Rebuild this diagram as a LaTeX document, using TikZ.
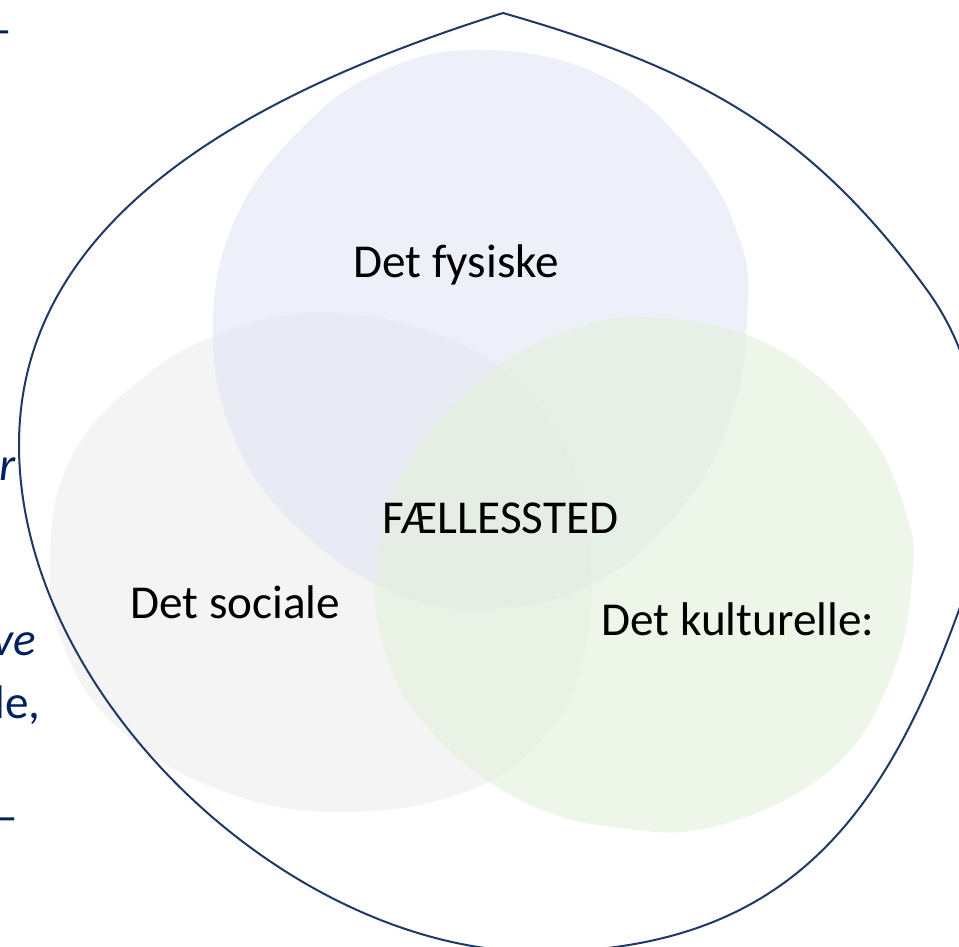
\documentclass[tikz,border=0pt]{standalone}
\usepackage{fontspec}
\setmainfont{Carlito}
\usetikzlibrary{positioning}
\definecolor{navy}{HTML}{1F3864}
\definecolor{textblue}{HTML}{002060}
\definecolor{physblue}{RGB}{225,230,243}
\definecolor{socgrey}{RGB}{237,237,237}
\definecolor{kulgreen}{RGB}{227,240,220}

\begin{document}
\begin{tikzpicture}[x=0.5pt, y=-0.5pt,
    blob/.style={draw=none, fill opacity=0.6},
    lbl/.style={font=\fontsize{23.6}{28}\selectfont, text=black, inner sep=0pt},
    cut/.style={font=\fontsize{23.6}{28}\selectfont, text=textblue, inner sep=0pt}]
        \useasboundingbox (0,0) rectangle (959,947);
        \clip (0,0) rectangle (959,947);
        % the three circles
        \fill [blob, socgrey] plot [smooth cycle, tension=0.7] coordinates {(330,313) (440,335) (520,385) (570,460) (590,560) (585,650) (550,730) (470,790) (340,812) (220,790) (120,730) (65,650) (50,560) (70,460) (140,380) (230,330)};
        \fill [blob, physblue] plot [smooth cycle, tension=0.7] coordinates {(480,50) (600,75) (690,150) (740,240) (747,320) (730,420) (680,510) (600,580) (500,608) (400,595) (300,530) (235,440) (213,330) (235,220) (300,130) (380,72)};
        \fill [blob, kulgreen] plot [smooth cycle, tension=0.7] coordinates {(660,318) (770,345) (860,420) (905,510) (912,580) (890,680) (830,770) (720,825) (620,828) (520,800) (430,730) (385,650) (377,560) (410,460) (480,380) (570,330)};
        % outline
        \coordinate (top) at (503,13);
        \coordinate (east) at (927,290);
        \coordinate (southeast) at (959,610);
        \coordinate (bottom) at (537,952);
        \coordinate (west) at (19,445);
        \draw [navy, line width=1pt] (top) .. controls (695,68) and (809,128) .. (east)
            .. controls (992,379) and (996,507) .. (southeast)
            .. controls (884,817) and (787,952) .. (bottom)
            .. controls (287,950) and (19,695) .. (west)
            .. controls (19,215) and (256,91) .. (top);
        % labels
        \node [lbl, anchor=base west] (fys) at (353,277) {Det fysiske};
        \node [lbl, anchor=base west] (faelles) at (382,533) {FÆLLESSTED};
        \node [lbl, anchor=base west] (soc) at (130,618) {Det sociale};
        \node [lbl, anchor=base west] (kul) at (601,635) {Det kulturelle:};
        % text cut off at the left edge
        \node [cut, anchor=base east] (dashtop) at (12,46) {–};
        \node [cut, anchor=base east, font=\fontsize{23.6}{28}\selectfont\itshape] (r) at (16,480) {r};
        \node [cut, anchor=base east, font=\fontsize{23.6}{28}\selectfont\itshape] (ve) at (36,655) {ve};
        \node [cut, anchor=base east] (le) at (41,718) {le,};
        \node [cut, anchor=base east] (dashbot) at (18,832) {–};
    \end{tikzpicture}
\end{document}
